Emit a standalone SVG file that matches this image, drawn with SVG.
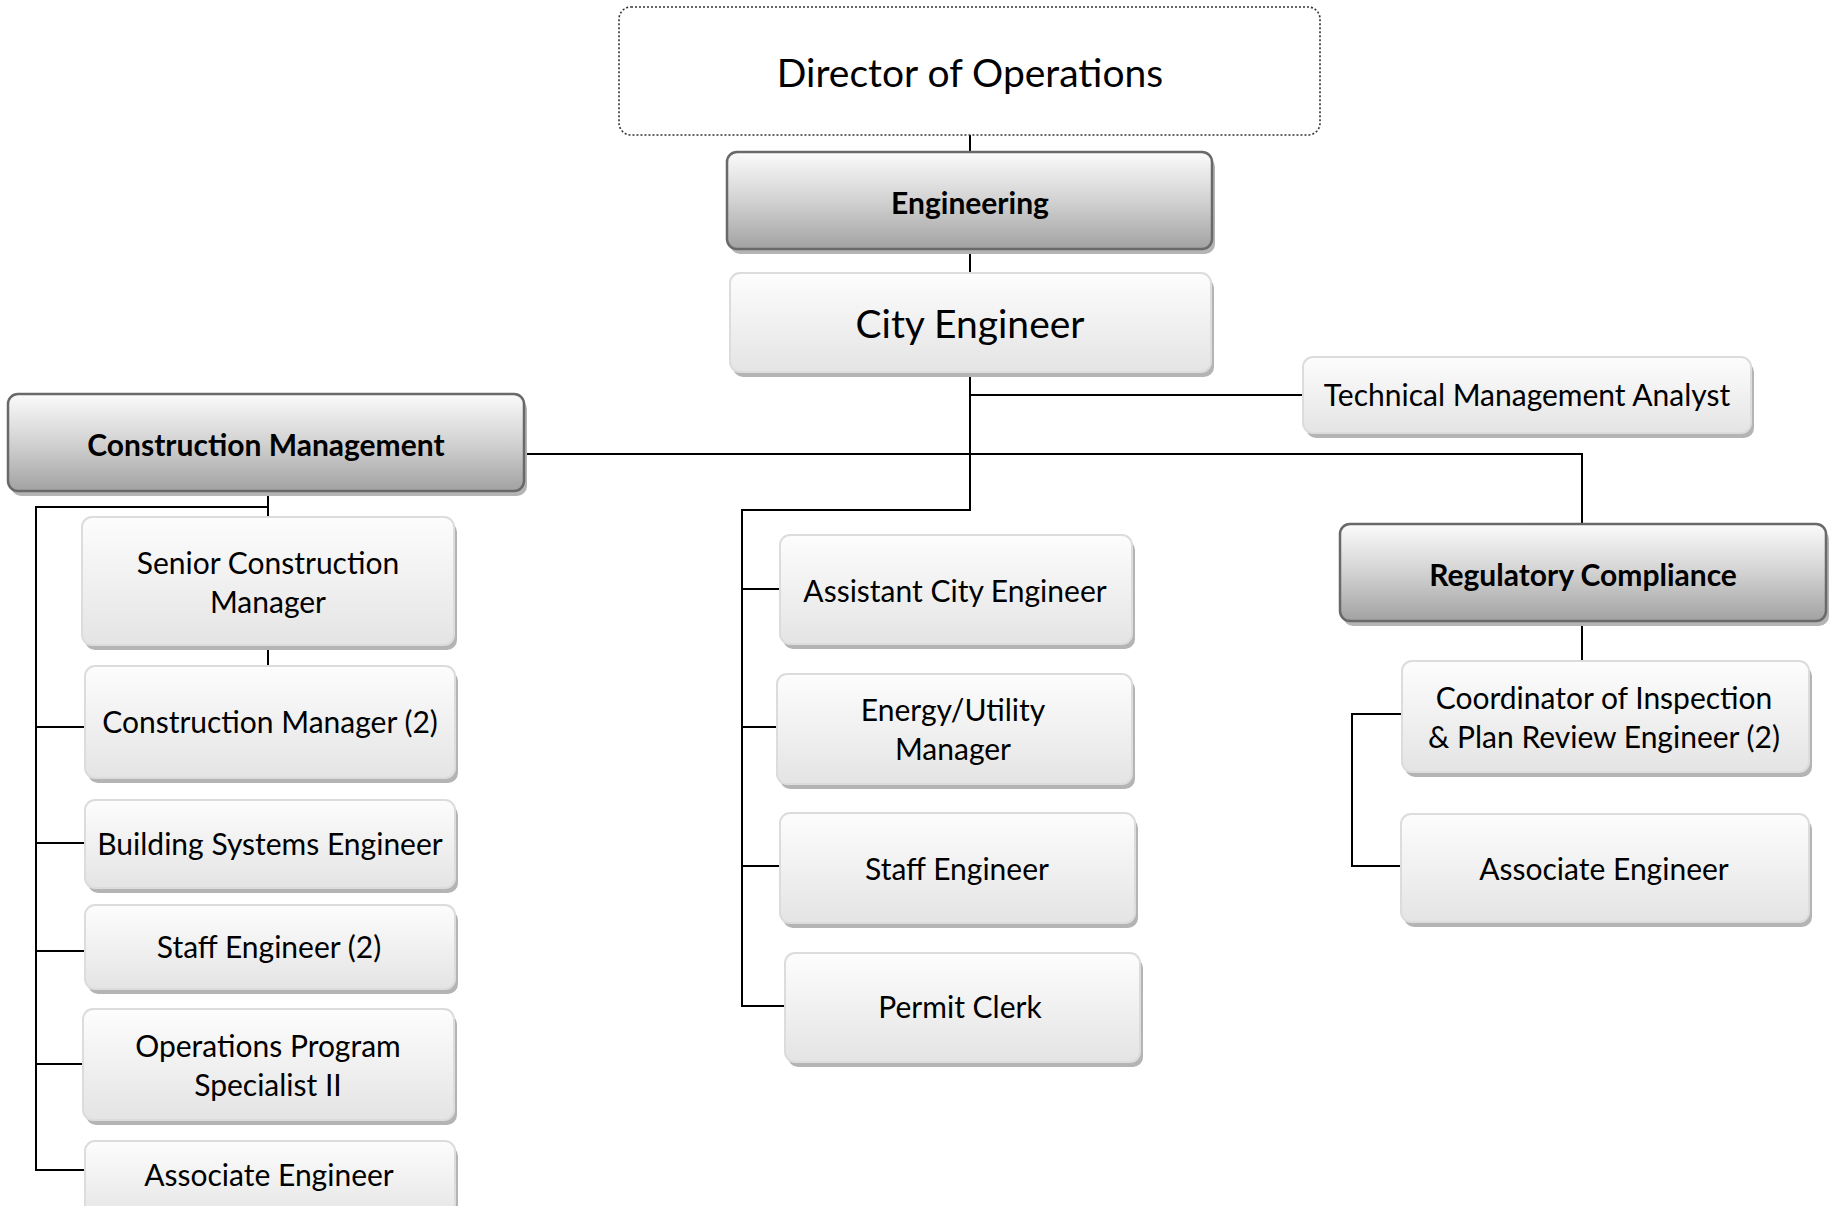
<svg xmlns="http://www.w3.org/2000/svg" width="1829" height="1206" viewBox="0 0 1829 1206">
<defs>
<linearGradient id="lg" x1="0" y1="0" x2="0" y2="1">
<stop offset="0" stop-color="#fdfdfd"/>
<stop offset="1" stop-color="#e4e4e4"/>
</linearGradient>
<linearGradient id="dg" x1="0" y1="0" x2="0" y2="1">
<stop offset="0" stop-color="#fbfbfb"/>
<stop offset="0.5" stop-color="#d2d2d2"/>
<stop offset="1" stop-color="#a2a2a2"/>
</linearGradient>
<style>
.sh{fill:#b4b4b4;}
.lt{fill:url(#lg);stroke:#dcdcdc;stroke-width:2;}
.dk{fill:url(#dg);stroke:#696969;stroke-width:2.5;}
.t{font-family:Lato,"Liberation Sans",sans-serif;font-size:30px;fill:#000;text-anchor:middle;dominant-baseline:central;}
.b{font-weight:bold;}
.big{font-size:39px;}
.cn{fill:none;stroke:#000;stroke-width:2;}
</style>
</defs>
<rect width="1829" height="1206" fill="#fff"/>
<g id="connectors">
<path class="cn" d="M970 135V152M970 250V273M970 373V510H742V1006H785M742 589H780M742 727H777M742 866H780M970 395H1303M524 454H1582V524M1582 621V661M1402 714H1352V866H1401M268 491V517M268 507H36V1170H85M36 727H85M36 843H85M36 951H85M36 1064H83M268 645V666"/>
</g>
<g id="director">
<rect x="619" y="7" width="701" height="128" rx="12" fill="#fff" stroke="#333" stroke-width="1.6" stroke-dasharray="2 2"/>
<text class="t big" x="970" y="72">Director of Operations</text>
</g>
<g id="engineering">
<rect class="sh" x="730" y="157" width="485" height="97" rx="10"/>
<rect class="dk" x="727" y="152" width="485" height="97" rx="10"/>
<text class="t b" x="970" y="202">Engineering</text>
</g>
<g id="city-engineer">
<rect class="sh" x="733" y="278" width="481" height="99" rx="10"/>
<rect class="lt" x="730" y="273" width="481" height="99" rx="10"/>
<text class="t big" x="970" y="323">City Engineer</text>
</g>
<g id="tech-analyst">
<rect class="sh" x="1306" y="362" width="448" height="76" rx="10"/>
<rect class="lt" x="1303" y="357" width="448" height="76" rx="10"/>
<text class="t" x="1527" y="394">Technical Management Analyst</text>
</g>
<g id="construction-management">
<rect class="sh" x="11" y="399" width="516" height="97" rx="10"/>
<rect class="dk" x="8" y="394" width="516" height="97" rx="10"/>
<text class="t b" x="266" y="444">Construction Management</text>
</g>
<g id="regulatory-compliance">
<rect class="sh" x="1343" y="529" width="486" height="97" rx="10"/>
<rect class="dk" x="1340" y="524" width="486" height="97" rx="10"/>
<text class="t b" x="1583" y="574">Regulatory Compliance</text>
</g>
<g id="senior-cm">
<rect class="sh" x="85" y="522" width="372" height="128" rx="10"/>
<rect class="lt" x="82" y="517" width="372" height="128" rx="10"/>
<text class="t" x="268" y="562">Senior Construction</text>
<text class="t" x="268" y="601">Manager</text>
</g>
<g id="cm2">
<rect class="sh" x="88" y="671" width="370" height="112" rx="10"/>
<rect class="lt" x="85" y="666" width="370" height="112" rx="10"/>
<text class="t" x="270" y="721">Construction Manager (2)</text>
</g>
<g id="bse">
<rect class="sh" x="88" y="805" width="370" height="88" rx="10"/>
<rect class="lt" x="85" y="800" width="370" height="88" rx="10"/>
<text class="t" x="270" y="843">Building Systems Engineer</text>
</g>
<g id="staff2">
<rect class="sh" x="88" y="910" width="370" height="84" rx="10"/>
<rect class="lt" x="85" y="905" width="370" height="84" rx="10"/>
<text class="t" x="269" y="946">Staff Engineer (2)</text>
</g>
<g id="ops">
<rect class="sh" x="86" y="1014" width="371" height="111" rx="10"/>
<rect class="lt" x="83" y="1009" width="371" height="111" rx="10"/>
<text class="t" x="268" y="1045">Operations Program</text>
<text class="t" x="268" y="1084">Specialist II</text>
</g>
<g id="assoc-left">
<rect class="sh" x="88" y="1146" width="370" height="80" rx="10"/>
<rect class="lt" x="85" y="1141" width="370" height="80" rx="10"/>
<text class="t" x="269" y="1174">Associate Engineer</text>
</g>
<g id="assistant">
<rect class="sh" x="783" y="540" width="352" height="109" rx="10"/>
<rect class="lt" x="780" y="535" width="352" height="109" rx="10"/>
<text class="t" x="955" y="590">Assistant City Engineer</text>
</g>
<g id="energy">
<rect class="sh" x="780" y="679" width="355" height="110" rx="10"/>
<rect class="lt" x="777" y="674" width="355" height="110" rx="10"/>
<text class="t" x="953" y="709">Energy/Utility</text>
<text class="t" x="953" y="748">Manager</text>
</g>
<g id="staff">
<rect class="sh" x="783" y="818" width="355" height="110" rx="10"/>
<rect class="lt" x="780" y="813" width="355" height="110" rx="10"/>
<text class="t" x="957" y="868">Staff Engineer</text>
</g>
<g id="permit">
<rect class="sh" x="788" y="958" width="355" height="109" rx="10"/>
<rect class="lt" x="785" y="953" width="355" height="109" rx="10"/>
<text class="t" x="960" y="1006">Permit Clerk</text>
</g>
<g id="coordinator">
<rect class="sh" x="1405" y="666" width="407" height="111" rx="10"/>
<rect class="lt" x="1402" y="661" width="407" height="111" rx="10"/>
<text class="t" x="1604" y="697">Coordinator of Inspection</text>
<text class="t" x="1604" y="736">&amp; Plan Review Engineer (2)</text>
</g>
<g id="assoc-right">
<rect class="sh" x="1404" y="819" width="408" height="108" rx="10"/>
<rect class="lt" x="1401" y="814" width="408" height="108" rx="10"/>
<text class="t" x="1604" y="868">Associate Engineer</text>
</g>
</svg>
